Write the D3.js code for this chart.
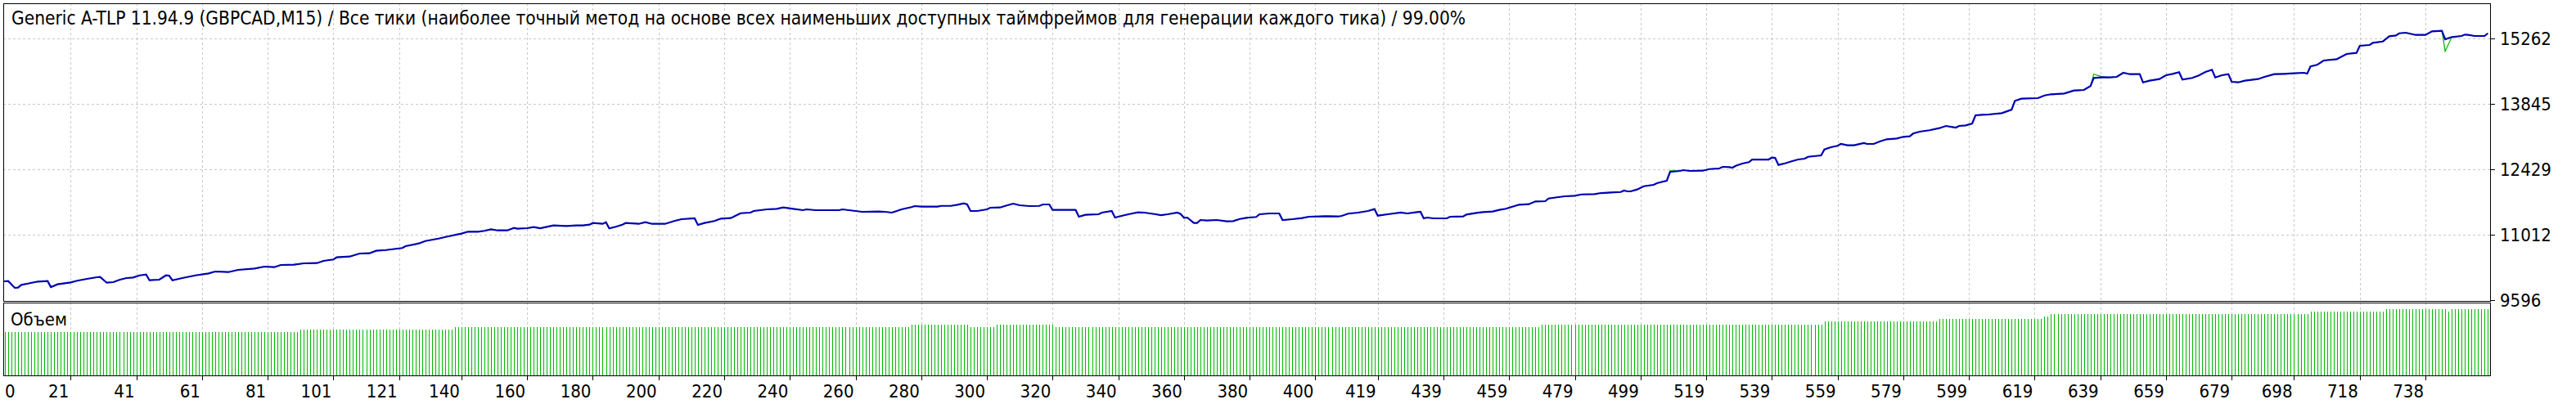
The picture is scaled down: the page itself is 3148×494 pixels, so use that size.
<!DOCTYPE html>
<html>
<head>
<meta charset="utf-8">
<script src="https://cdn.jsdelivr.net/npm/d3@7"></script>
<style>
  body { margin: 0; background: #fff; }
  svg text { font-family: "DejaVu Sans Condensed", "DejaVu Sans", sans-serif; font-size: 22px; fill: #000; }
  svg text.title { font-size: 22.5px; }
</style>
</head>
<body>
<svg width="3148" height="494"></svg>
<script>
// Chart texts and ticks
var title = "Generic A-TLP 11.94.9 (GBPCAD,M15) / Все тики (наиболее точный метод на основе всех наименьших доступных таймфреймов для генерации каждого тика) / 99.00%";
var volumeLabel = "Объем";
var yTicks = [9596, 11012, 12429, 13845, 15262];
var xTickLabels = [0, 21, 41, 61, 81, 101, 121, 140, 160, 180, 200, 220, 240, 260, 280, 300, 320, 340, 360, 380,
    400, 419, 439, 459, 479, 499, 519, 539, 559, 579, 599, 619, 639, 659, 679, 698, 718, 738];

// Balance (trade number, balance value)
var balTrade = [0, 2, 4, 5, 6, 8, 11, 14, 15, 17, 21, 23, 26, 29, 30, 32, 34, 36, 38, 40, 42, 44, 45, 48, 50, 51, 52, 55, 59, 63,
    65, 69, 72, 77, 80, 83, 85, 89, 92, 96, 98, 101, 102, 106, 109, 112, 114, 117, 122, 123, 127, 129, 133, 136, 140, 142, 145, 147, 149, 151,
    154, 156, 157, 160, 162, 164, 166, 168, 172, 175, 177, 179, 180, 183, 184, 185, 187, 189, 190, 194, 196, 198, 202, 205, 207, 211, 212, 214, 217, 219,
    222, 224, 225, 228, 229, 233, 236, 238, 241, 244, 245, 248, 255, 256, 260, 262, 267, 269, 271, 272, 274, 277, 278, 280, 285, 286, 289, 291, 293, 294,
    295, 297, 300, 301, 304, 306, 308, 310, 313, 316, 317, 319, 320, 327, 328, 330, 334, 335, 338, 339, 342, 344, 346, 348, 351, 353, 355, 358, 359, 360,
    361, 363, 364, 365, 367, 370, 373, 375, 377, 379, 382, 383, 386, 389, 390, 393, 396, 398, 403, 407, 408, 410, 413, 416, 418, 419, 422, 426, 428, 431,
    432, 433, 434, 436, 440, 441, 445, 446, 449, 451, 454, 456, 458, 460, 462, 465, 467, 470, 471, 474, 476, 479, 481, 485, 487, 490, 493, 494, 495, 496,
    498, 500, 503, 504, 507, 508, 511, 512, 514, 518, 520, 523, 524, 526, 527, 528, 530, 532, 533, 538, 539, 540, 541, 543, 545, 547, 549, 550, 554, 555,
    557, 559, 560, 562, 564, 567, 568, 570, 572, 574, 577, 579, 581, 582, 584, 587, 590, 592, 594, 595, 596, 598, 600, 601, 603, 605, 609, 612, 613, 615,
    620, 622, 624, 628, 631, 634, 636, 637, 640, 642, 644, 646, 648, 651, 652, 654, 657, 659, 661, 663, 664, 667, 669, 671, 673, 674, 676, 678, 679, 681,
    683, 687, 689, 692, 695, 698, 701, 702, 703, 705, 707, 711, 712, 714, 717, 718, 721, 722, 725, 727, 729, 730, 732, 735, 738, 740, 743, 744, 746, 749,
    750, 751, 753, 756, 757];
var balValue = [10000, 10009, 9862, 9867, 9927, 9955, 9998, 10009, 9879, 9938, 9980, 10016, 10056, 10092, 10097, 9973, 9986, 10039, 10074, 10086, 10132, 10150, 10026, 10039, 10132, 10127, 10026, 10074, 10132, 10175,
    10216, 10203, 10251, 10281, 10322, 10310, 10357, 10363, 10393, 10398, 10446, 10476, 10522, 10540, 10605, 10611, 10664, 10681, 10724, 10765, 10823, 10876, 10929, 10977, 11036, 11078, 11078, 11096, 11131, 11106,
    11106, 11159, 11142, 11154, 11177, 11154, 11184, 11213, 11202, 11213, 11213, 11230, 11266, 11248, 11283, 11149, 11184, 11230, 11266, 11248, 11283, 11248, 11248, 11313, 11349, 11367, 11225, 11266, 11308, 11361,
    11372, 11443, 11478, 11491, 11526, 11561, 11574, 11602, 11574, 11544, 11561, 11544, 11544, 11561, 11526, 11508, 11514, 11508, 11491, 11514, 11561, 11609, 11632, 11620, 11620, 11637, 11637, 11662, 11691, 11668,
    11526, 11526, 11561, 11597, 11602, 11645, 11685, 11650, 11632, 11637, 11668, 11668, 11549, 11549, 11402, 11443, 11455, 11491, 11526, 11384, 11437, 11468, 11496, 11491, 11460, 11437, 11455, 11491, 11460, 11379,
    11384, 11266, 11266, 11331, 11319, 11331, 11301, 11308, 11354, 11379, 11397, 11455, 11473, 11473, 11331, 11349, 11372, 11402, 11414, 11407, 11420, 11468, 11491, 11526, 11567, 11425, 11455, 11491, 11473, 11503,
    11508, 11367, 11384, 11367, 11367, 11402, 11407, 11450, 11485, 11503, 11514, 11549, 11574, 11620, 11662, 11673, 11733, 11738, 11797, 11827, 11845, 11857, 11885, 11892, 11915, 11928, 11938, 11969, 11951, 11951,
    11992, 12062, 12093, 12128, 12181, 12371, 12394, 12411, 12394, 12399, 12434, 12447, 12482, 12476, 12464, 12505, 12553, 12583, 12641, 12641, 12682, 12677, 12523, 12558, 12601, 12641, 12659, 12700, 12730, 12859,
    12907, 12937, 12978, 12948, 12948, 12996, 12978, 12978, 13036, 13079, 13096, 13132, 13143, 13203, 13243, 13274, 13320, 13367, 13344, 13332, 13367, 13380, 13420, 13598, 13610, 13615, 13645, 13721, 13911, 13957,
    13969, 14028, 14053, 14070, 14134, 14146, 14230, 14407, 14424, 14418, 14430, 14518, 14488, 14488, 14311, 14347, 14382, 14465, 14495, 14531, 14371, 14407, 14460, 14536, 14584, 14417, 14465, 14488, 14324, 14311,
    14347, 14382, 14430, 14488, 14495, 14506, 14518, 14501, 14655, 14690, 14784, 14814, 14849, 14926, 14949, 15103, 15120, 15168, 15196, 15310, 15327, 15373, 15386, 15338, 15338, 15416, 15427, 15244, 15292, 15315,
    15345, 15338, 15315, 15315, 15373];

// Equity where it leaves the balance line
var eqTrade = [508, 637, 744];
var eqValue = [12399, 14488, 14984];

// Lot size, constant from each start trade on
var volStart = [1, 91, 138, 277, 295, 303, 321, 469, 555, 590, 622, 624, 703, 726, 745, 746];
var volLot = [0.17, 0.18, 0.19, 0.20, 0.19, 0.20, 0.19, 0.20, 0.21, 0.22, 0.23, 0.24, 0.25, 0.26, 0.25, 0.26];
var tradeCount = 757;

var svg = d3.select("svg");

var main = { left: 4, right: 3043, top: 4, bottom: 368 },
    vol = { top: 370, bottom: 459 };

var x = d3.scaleLinear().domain([0, 757.8]).range([2, 3043.5]);
var y = d3.scaleLinear().domain([9596, 15262]).range([367, 47]);
var yv = d3.scaleLinear().domain([0, 0.2826]).range([458.5, 370.9]);

function px(v) { return Math.round(v) + 0.5; }

svg.append("rect").attr("width", 3148).attr("height", 494).attr("fill", "#fff");

// clip path for the balance panel
var defs = svg.append("defs");
defs.append("clipPath").attr("id", "clipMain").append("rect")
    .attr("x", main.left + 1).attr("y", main.top + 1)
    .attr("width", main.right - main.left - 1).attr("height", main.bottom - main.top - 1);

// ****************** grid ***************************
var grid = svg.append("g");

// vertical dashed lines through both panels
xTickLabels.slice(1).forEach(function (d) {
    grid.append("line")
        .attr("x1", px(x(d))).attr("x2", px(x(d)))
        .attr("y1", main.top).attr("y2", main.bottom)
        .attr("stroke", "#c8c8c8").attr("stroke-dasharray", "3,3");
    grid.append("line")
        .attr("x1", px(x(d))).attr("x2", px(x(d)))
        .attr("y1", vol.top).attr("y2", vol.bottom)
        .attr("stroke", "#c8c8c8").attr("stroke-dasharray", "3,3");
});

// horizontal dashed lines
yTicks.slice(1).forEach(function (d) {
    grid.append("line")
        .attr("x1", main.left).attr("x2", main.right)
        .attr("y1", px(y(d))).attr("y2", px(y(d)))
        .attr("stroke", "#c8c8c8").attr("stroke-dasharray", "3,3");
});

// ****************** volume bars ***************************
var volData = [];
for (var t = 1; t <= tradeCount; t++) {
    var lot = volLot[0];
    for (var k = 0; k < volStart.length; k++) {
        if (t >= volStart[k]) lot = volLot[k];
    }
    volData.push({ t: t, lot: lot });
}

svg.append("g").selectAll("line")
    .data(volData)
    .enter().append("line")
    .attr("x1", function (d) { return px(x(d.t)); })
    .attr("x2", function (d) { return px(x(d.t)); })
    .attr("y1", vol.bottom)
    .attr("y2", function (d) { return Math.round(yv(d.lot)); })
    .attr("stroke", "#00b800")
    .attr("stroke-width", 1);

// ****************** balance / equity ***************************
var balance = balTrade.map(function (d, i) { return { t: d, v: balValue[i] }; });

// equity = balance with the spikes put in
var equity = balance.map(function (d) {
    var j = eqTrade.indexOf(d.t);
    return j < 0 ? d : { t: d.t, v: eqValue[j] };
});
eqTrade.forEach(function (d, i) {
    if (balTrade.indexOf(d) < 0) equity.push({ t: d, v: eqValue[i] });
});
equity.sort(function (a, b) { return a.t - b.t; });

var line = d3.line()
    .x(function (d) { return x(d.t); })
    .y(function (d) { return y(d.v); });

var plot = svg.append("g").attr("clip-path", "url(#clipMain)");

plot.append("path")
    .datum(equity)
    .attr("d", line)
    .attr("fill", "none")
    .attr("stroke", "#00b400")
    .attr("stroke-width", 1.2);

plot.append("path")
    .datum(balance)
    .attr("d", line)
    .attr("fill", "none")
    .attr("stroke", "#0000b4")
    .attr("stroke-width", 2.2)
    .attr("stroke-linejoin", "miter");

// ****************** frames ***************************
svg.append("rect")
    .attr("x", main.left + 0.5).attr("y", main.top + 0.5)
    .attr("width", main.right - main.left).attr("height", main.bottom - main.top)
    .attr("fill", "none").attr("stroke", "#000");

svg.append("rect")
    .attr("x", main.left + 0.5).attr("y", vol.top + 0.5)
    .attr("width", main.right - main.left).attr("height", vol.bottom - vol.top)
    .attr("fill", "none").attr("stroke", "#000");

// ****************** axes ***************************
// right value axis
var yAxis = svg.append("g");
yTicks.forEach(function (d) {
    yAxis.append("line")
        .attr("x1", main.right + 0.5).attr("x2", main.right + 6)
        .attr("y1", px(y(d))).attr("y2", px(y(d)))
        .attr("stroke", "#000");
    yAxis.append("text")
        .attr("x", 3055)
        .attr("y", y(d) + 8)
        .text(d);
});

// bottom trade axis
var xAxis = svg.append("g");
xTickLabels.forEach(function (d, i) {
    if (i > 0) {
        xAxis.append("line")
            .attr("x1", px(x(d))).attr("x2", px(x(d)))
            .attr("y1", vol.bottom).attr("y2", vol.bottom + 6)
            .attr("stroke", "#000");
    }
    xAxis.append("text")
        .attr("x", i === 0 ? 6 : x(d) - 2)
        .attr("y", 486)
        .attr("text-anchor", i === 0 ? "start" : "end")
        .text(d);
});

// ****************** labels ***************************
svg.append("text").attr("class", "title").attr("x", 14).attr("y", 30).text(title);
svg.append("text").attr("x", 13).attr("y", 398).text(volumeLabel);
</script>
</body>
</html>
